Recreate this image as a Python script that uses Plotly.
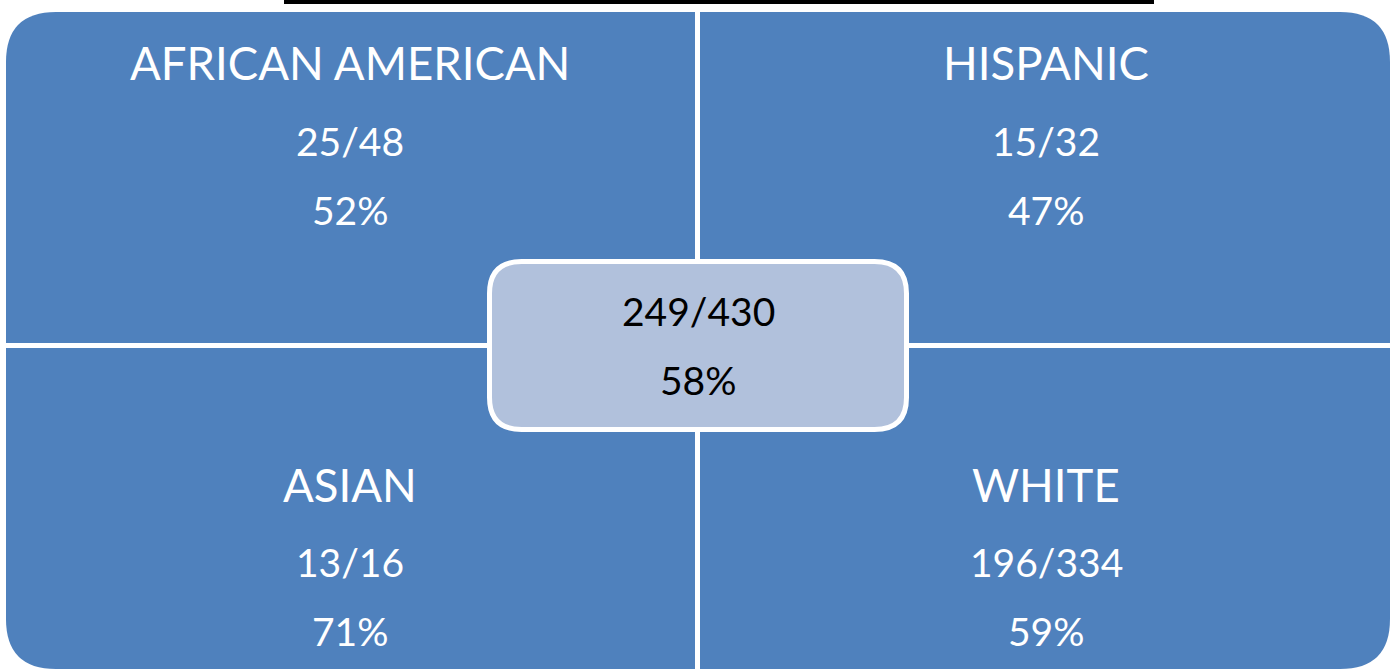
import plotly.graph_objects as go

# ---- data ----
groups = ["AFRICAN AMERICAN", "HISPANIC", "ASIAN", "WHITE"]
numerators = [25, 15, 13, 196]
denominators = [48, 32, 16, 334]
percents = ["52%", "47%", "71%", "59%"]
total_num = 249
total_den = 430
total_pct = "58%"

W, H = 1390, 670
BLUE = "#4F81BD"
LIGHT = "#B1C1DC"
FONT = "Lato"

fig = go.Figure()

def rr_path(x0, y0, x1, y1, corners):
    """rounded rect path; corners: dict tl,tr,br,bl -> radius (0 = square). y down."""
    tl, tr, br, bl = (corners.get(k, 0) for k in ("tl", "tr", "br", "bl"))
    p = f"M {x0+tl},{y0} L {x1-tr},{y0} "
    p += f"Q {x1},{y0} {x1},{y0+tr} " if tr else ""
    p += f"L {x1},{y1-br} "
    p += f"Q {x1},{y1} {x1-br},{y1} " if br else ""
    p += f"L {x0+bl},{y1} "
    p += f"Q {x0},{y1} {x0},{y1-bl} " if bl else ""
    p += f"L {x0},{y0+tl} "
    p += f"Q {x0},{y0} {x0+tl},{y0} " if tl else ""
    return p + "Z"

R = 50
quads = [
    (6, 12, 695, 343, {"tl": R}),
    (700, 12, 1390, 343, {"tr": R}),
    (6, 348, 695, 669, {"bl": R}),
    (700, 348, 1390, 669, {"br": R}),
]
shapes = []
for x0, y0, x1, y1, c in quads:
    shapes.append(dict(type="path", path=rr_path(x0, y0, x1, y1, c),
                       xref="x", yref="y", fillcolor=BLUE, line=dict(width=0), layer="below"))
# black bar at top
shapes.append(dict(type="rect", x0=284, x1=1154, y0=0, y1=4, xref="x", yref="y",
                   fillcolor="black", line=dict(width=0)))
# center box
cr = 32
shapes.append(dict(type="path",
                   path=rr_path(489.5, 261.5, 906.5, 429.5, {"tl": cr, "tr": cr, "br": cr, "bl": cr}),
                   xref="x", yref="y", fillcolor=LIGHT, line=dict(color="white", width=5)))

centers = [(350, 0), (1046, 0), (350, 1), (1046, 1)]
row_y = {0: (62, 141, 210), 1: (484, 562, 631)}
ann = []
for g, n, d, p, (cx, row) in zip(groups, numerators, denominators, percents, centers):
    y1, y2, y3 = row_y[row]
    for txt, yy, sz in ((g, y1, 45.5), (f"{n}/{d}", y2, 39), (p, y3, 39)):
        ann.append(dict(x=cx, y=yy, text=txt, showarrow=False, xref="x", yref="y",
                        font=dict(family=FONT, size=sz, color="white"),
                        xanchor="center", yanchor="middle"))
for txt, yy in ((f"{total_num}/{total_den}", 311), (total_pct, 380)):
    ann.append(dict(x=698, y=yy, text=txt, showarrow=False, xref="x", yref="y",
                    font=dict(family=FONT, size=39, color="black"),
                    xanchor="center", yanchor="middle"))

fig.update_layout(
    width=W, height=H, margin=dict(l=0, r=0, t=0, b=0),
    paper_bgcolor="white", plot_bgcolor="white",
    xaxis=dict(range=[0, W], visible=False, fixedrange=True),
    yaxis=dict(range=[H, 0], visible=False, fixedrange=True),
    shapes=shapes, annotations=ann, showlegend=False,
)
fig.write_html("out.html", config={"displayModeBar": False},
               post_script="document.body.style.margin='0';document.body.style.overflow='hidden';")
